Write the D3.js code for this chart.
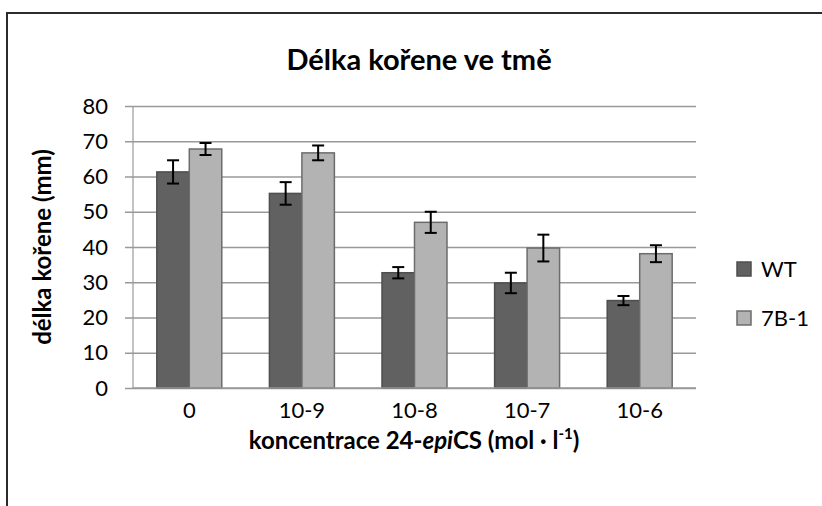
<!DOCTYPE html>
<html>
<head>
<meta charset="utf-8">
<script src="https://cdn.jsdelivr.net/npm/d3@7"></script>
<style>
  body { margin: 0; background: #fff; }
  svg { display: block; font-family: Lato, "Noto Sans", sans-serif; }
</style>
</head>
<body>
<div id="chart"></div>
<script>
// data
const categories = ["0", "10-9", "10-8", "10-7", "10-6"];
const seriesNames = ["WT", "7B-1"];
const wtValues = [61.3, 55.2, 32.7, 29.8, 24.8];
const wtErrors = [3.3, 3.2, 1.6, 2.9, 1.3];
const lineValues = [67.8, 66.7, 47.0, 39.7, 38.1];
const lineErrors = [1.7, 2.1, 3.0, 3.8, 2.4];
const yTicks = [0, 10, 20, 30, 40, 50, 60, 70, 80];

const colors = { "WT": "#616161", "7B-1": "#b3b3b3" };
const strokes = { "WT": "#4e4e4e", "7B-1": "#6c6c6c" };

const W = 822, H = 506;
const margin = { top: 106, right: 126, bottom: 118, left: 133 };
const width = W - margin.left - margin.right;
const height = H - margin.top - margin.bottom;

const svg = d3.select("#chart").append("svg")
  .attr("width", W).attr("height", H);

// outer chart border (runs off the right and bottom)
svg.append("rect")
  .attr("x", 7).attr("y", 13)
  .attr("width", 840).attr("height", 520)
  .attr("fill", "none").attr("stroke", "#2b2b2b").attr("stroke-width", 2);

const g = svg.append("g").attr("transform", `translate(${margin.left},${margin.top})`);

const rows = categories.map((c, i) => ({
  cat: c,
  vals: [
    { key: "WT", v: wtValues[i], e: wtErrors[i] },
    { key: "7B-1", v: lineValues[i], e: lineErrors[i] }
  ]
}));

const x0 = d3.scaleBand().domain(categories).range([0, width]).paddingInner(0.423).paddingOuter(0.2115);
const x1 = d3.scaleBand().domain(seriesNames).range([0, x0.bandwidth()]);
const y = d3.scaleLinear().domain([0, 80]).range([height, 0]);

// gridlines + y ticks
const yAxis = g.append("g")
  .call(d3.axisLeft(y).tickValues(yTicks).tickSize(8).tickPadding(17))
  .call(a => a.select(".domain").remove());
yAxis.selectAll(".tick line").attr("stroke", "#999").attr("stroke-width", 1.5)
  .clone().attr("x1", 0).attr("x2", width);
yAxis.selectAll(".tick text").attr("font-size", 22).attr("fill", "#000")
  .attr("font-family", "Lato, 'Noto Sans', sans-serif");

// y axis line
g.append("line").attr("x1", 0).attr("x2", 0).attr("y1", 0).attr("y2", height)
  .attr("stroke", "#999").attr("stroke-width", 1.2);

// bars
const groups = g.selectAll(".grp").data(rows).join("g")
  .attr("transform", d => `translate(${x0(d.cat)},0)`);

groups.selectAll("rect").data(d => d.vals).join("rect")
  .attr("x", d => x1(d.key))
  .attr("y", d => y(d.v))
  .attr("width", x1.bandwidth())
  .attr("height", d => height - y(d.v))
  .attr("fill", d => colors[d.key])
  .attr("stroke", d => strokes[d.key])
  .attr("stroke-width", 1.5);

// error bars
const eb = groups.selectAll(".err").data(d => d.vals).join("g").attr("class", "err")
  .attr("stroke", "#000").attr("stroke-width", 2);
eb.append("line")
  .attr("x1", d => x1(d.key) + x1.bandwidth() / 2).attr("x2", d => x1(d.key) + x1.bandwidth() / 2)
  .attr("y1", d => y(d.v + d.e)).attr("y2", d => y(d.v - d.e));
eb.append("line")
  .attr("x1", d => x1(d.key) + x1.bandwidth() / 2 - 6).attr("x2", d => x1(d.key) + x1.bandwidth() / 2 + 6)
  .attr("y1", d => y(d.v + d.e)).attr("y2", d => y(d.v + d.e));
eb.append("line")
  .attr("x1", d => x1(d.key) + x1.bandwidth() / 2 - 6).attr("x2", d => x1(d.key) + x1.bandwidth() / 2 + 6)
  .attr("y1", d => y(d.v - d.e)).attr("y2", d => y(d.v - d.e));

// x axis line
g.append("line").attr("x1", 0).attr("x2", width).attr("y1", height).attr("y2", height)
  .attr("stroke", "#999").attr("stroke-width", 1.5);

// x tick labels
const xAxis = g.append("g").attr("transform", `translate(0,${height})`)
  .call(d3.axisBottom(x0).tickSize(0).tickPadding(14))
  .call(a => a.select(".domain").remove());
xAxis.selectAll(".tick text").attr("font-size", 22).attr("fill", "#000")
  .attr("font-family", "Lato, 'Noto Sans', sans-serif");

// title
svg.append("text").attr("x", 419).attr("y", 70).attr("text-anchor", "middle")
  .attr("font-size", 29).attr("font-weight", "bold").text("Délka kořene ve tmě");

// y title
svg.append("text")
  .attr("transform", `translate(51,${margin.top + height / 2}) rotate(-90)`)
  .attr("text-anchor", "middle").attr("font-size", 24).attr("font-weight", "bold")
  .text("délka kořene (mm)");

// x title with italic part and superscript
const xt = svg.append("text").attr("x", 414).attr("y", 449).attr("text-anchor", "middle")
  .attr("font-size", 24).attr("font-weight", "bold");
xt.append("tspan").text("koncentrace 24-");
xt.append("tspan").attr("font-style", "italic").text("epi");
xt.append("tspan").text("CS (mol · l");
xt.append("tspan").attr("font-size", 15).attr("dy", -10).text("-1");
xt.append("tspan").attr("dy", 10).text(")");

// legend
const legend = svg.append("g").attr("transform", "translate(737,262)");
seriesNames.forEach((s, i) => {
  const row = legend.append("g").attr("transform", `translate(0,${i * 49})`);
  row.append("rect").attr("width", 14).attr("height", 14)
    .attr("fill", colors[s]).attr("stroke", strokes[s]).attr("stroke-width", 1.5);
  row.append("text").attr("x", 24).attr("y", 15).attr("font-size", 22).text(s);
});
</script>
</body>
</html>
